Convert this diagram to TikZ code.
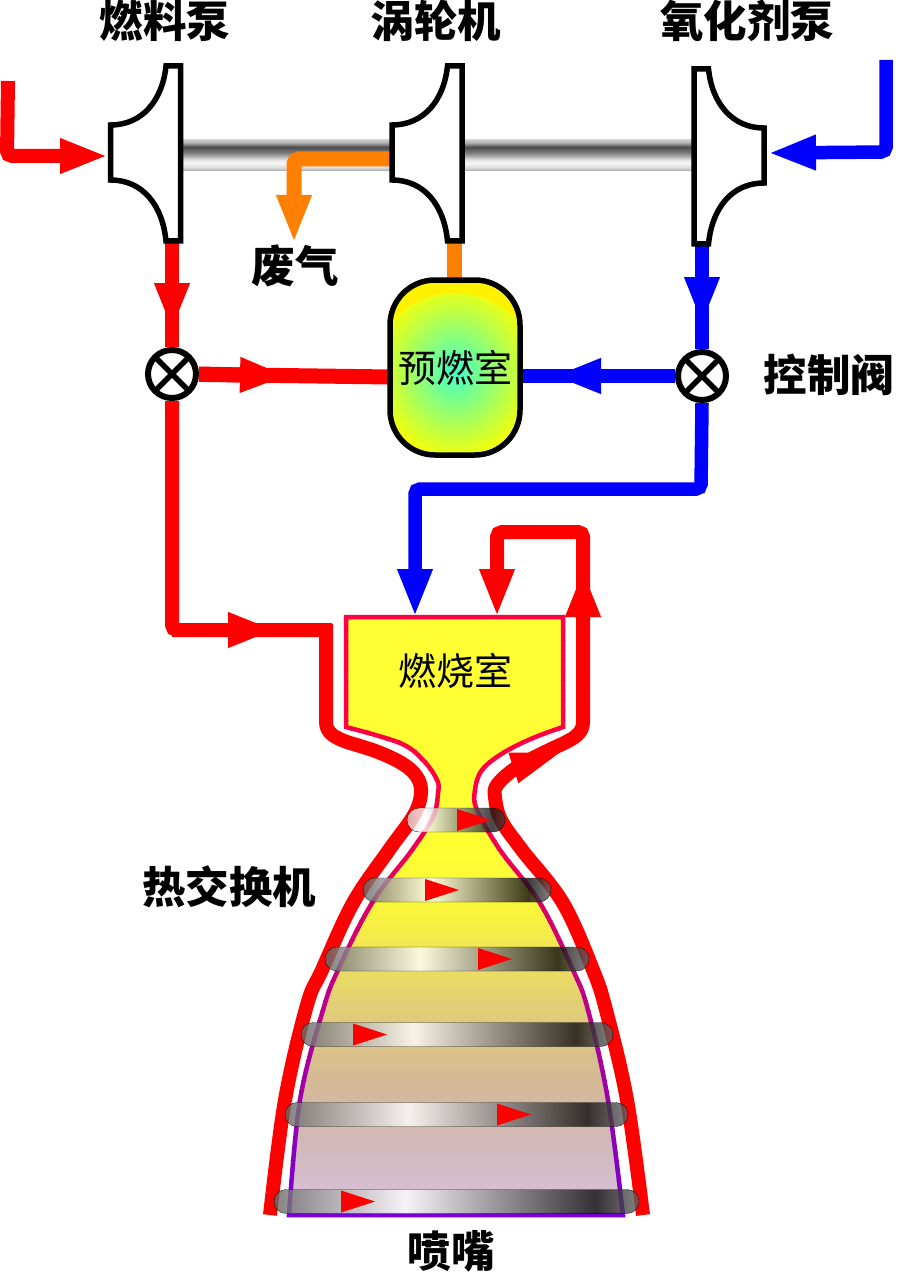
\documentclass[tikz,border=0pt]{standalone}
\usepackage{fontspec}
\newfontfamily\cjk{Noto Sans CJK SC}
\usetikzlibrary{arrows.meta}
\definecolor{exhaustc}{RGB}{255,128,0}
\definecolor{flamec}{RGB}{255,255,51}
\definecolor{wallup}{RGB}{255,0,64}
\definecolor{walldown}{RGB}{115,0,215}
\definecolor{fillb}{RGB}{250,245,60}
\definecolor{fillc}{RGB}{226,208,115}
\definecolor{filld}{RGB}{212,185,150}
\definecolor{fille}{RGB}{210,185,190}
\definecolor{fillf}{RGB}{220,195,222}
\definecolor{burnerc}{RGB}{64,255,200}
\pgfdeclareverticalshading{shaftshade}{100bp}{color(0bp)=(black!35); color(25bp)=(black!35);
    color(30bp)=(black!15); color(38bp)=(black!3); color(42.7bp)=(black!10); color(54bp)=(black!50);
    color(63.7bp)=(black!70); color(70bp)=(black!35); color(75bp)=(black!20); color(100bp)=(black!20)}
\pgfdeclarehorizontalshading{ringshade}{100bp}{color(0bp)=(black!60); color(25bp)=(black!60);
    color(43bp)=(white); color(69bp)=(black!95); color(75bp)=(black!60); color(100bp)=(black!60)}
\pgfdeclarehorizontalshading{topringshade}{100bp}{color(0bp)=(black!15); color(25bp)=(black!15);
    color(34bp)=(white); color(68bp)=(black!90); color(75bp)=(black!75); color(100bp)=(black!75)}
\pgfdeclareradialshading{burnershade}{\pgfpointorigin}{color(0bp)=(burnerc); color(25bp)=(yellow); color(50bp)=(yellow)}
\newcommand{\chamberoutline}{(346,617) -- (563,617) -- (563,727) -- plot[smooth,tension=.6] coordinates {(563,727) (533,738) (503,753) (482,770) (475,790) (477,810) (500,850) (540,903) (573,970) (588,1010) (608,1100) (623,1215)}
    -- plot[smooth,tension=.6] coordinates {(289,1215) (300,1100) (323,1010) (338,970) (372,903) (412,850) (433,817) (438,793) (437,780) (423,760) (400,743) (346,727)} -- cycle}
\begin{document}
\begin{tikzpicture}[x=1pt, y=-1pt,
        title/.style={font=\cjk\bfseries\fontsize{43.5}{43.5}\selectfont, inner sep=0pt},
        plain/.style={font=\cjk\fontsize{38}{38}\selectfont, inner sep=0pt},
        fuel/.style={red, line width=14pt, rounded corners=5pt},
        oxi/.style={blue, line width=13.5pt, rounded corners=5pt},
        exhaust/.style={exhaustc, line width=15pt, rounded corners=5pt},
        tip/.style={-{Triangle[length=48pt,width=32pt]}},
        wheel/.style={draw=black, fill=white, line width=5.5pt},
        valve/.style={circle, draw=black, fill=white, line width=6pt, minimum size=48pt, inner sep=0pt,
            path picture={\draw[line width=5.5pt] (path picture bounding box.north west) -- (path picture bounding box.south east)
                (path picture bounding box.north east) -- (path picture bounding box.south west);}},
        ring/.style={rounded corners=12pt, minimum height=24pt, inner sep=0pt, draw=black, thin, opacity=.8, shade, shading angle=0}]
    \useasboundingbox (0,0) rectangle (900,1273);
    \shade[shading=shaftshade] (181,140) rectangle (392,171);
    \shade[shading=shaftshade] (461,140) rectangle (695,171);
    \coordinate (fuelin) at (8,81);
    \coordinate (fuelbend) at (7,156);
    \coordinate (fuelpumpin) at (108,156);
    \coordinate (oxiin) at (886,60);
    \coordinate (oxibend) at (886,152);
    \coordinate (oxipumpin) at (768,153);
    \coordinate (fuelpumpout) at (172,243);
    \coordinate (oxipumpout) at (702,245);
    \coordinate (turbineout) at (454,243);
    \coordinate (turbineback) at (392,159);
    \coordinate (ventbend) at (294,159);
    \coordinate (vent) at (294,243);
    \draw[fuel, tip] (fuelin) -- (fuelbend) -- (fuelpumpin);
    \draw[oxi, tip] (oxiin) -- (oxibend) -- (oxipumpin);
    \draw[exhaust, tip] (turbineback) -- (ventbend) -- (vent);
    \draw[exhaust] (turbineout) -- (454,285);
    \node[valve] (fuelvalve) at (172,374) {};
    \node[valve] (oxivalve) at (702,376) {};
    \coordinate (fueltip) at (172,331);
    \coordinate (oxitip) at (702,325);
    \draw[fuel] (fuelpumpout) -- (fuelvalve);
    \draw[fuel, tip] (fuelpumpout) -- (fueltip);
    \draw[oxi] (oxipumpout) -- (oxivalve);
    \draw[oxi, tip] (oxipumpout) -- (oxitip);
    \foreach \dx/\dy/\fx in {110.5/0/1, 392/0/1, 764/3/-1}
        \draw[wheel, shift={(\dx,\dy)}, xscale=\fx] (0,125) -- (0,180) .. controls (32,180) and (52,205) .. (55.5,241)
            -- (70,241) -- (70,66) -- (55.5,66) .. controls (52,100) and (32,125) .. (0,125) -- cycle;
    \coordinate (burnerleft) at (390,377);
    \coordinate (burnerright) at (520,376);
    \coordinate (fuelbranch) at (288,376);
    \coordinate (oxibranch) at (553,376);
    \draw[fuel, line width=15pt] (fuelvalve) -- (burnerleft);
    \draw[fuel, line width=15pt, tip] (fuelvalve.east) -- (fuelbranch);
    \draw[oxi] (oxivalve) -- (burnerright);
    \draw[oxi, tip] (oxivalve.west) -- (oxibranch);
    \node[plain, draw=black, fill=yellow, line width=5.5pt, rounded corners=45pt, minimum width=130pt, minimum height=175pt,
        path picture={\shade[shading=burnershade] ([yshift=-10.5pt] path picture bounding box.center) circle (85);}] (burner) at (455,367.5) {预燃室\hspace{6pt}};
    \coordinate (fuelturn) at (172,630);
    \coordinate (fuelmid) at (276,630);
    \coordinate (fuelend) at (332,630);
    \draw[fuel] (fuelvalve.south) -- (fuelturn) -- (fuelend);
    \draw[fuel, tip] (fuelturn) -- (fuelmid);
    \coordinate (oxiturn) at (701,489);
    \coordinate (oxicorner) at (415,489);
    \coordinate (oxichamber) at (415,617);
    \draw[oxi, tip] (oxivalve.south) -- (oxiturn) -- (oxicorner) -- (oxichamber);
    \begin{scope}
        \clip \chamberoutline;
        \fill[flamec] (200,600) rectangle (700,851);
        \shade[top color=flamec, bottom color=fillb] (200,850) rectangle (700,911);
        \shade[top color=fillb, bottom color=fillc] (200,910) rectangle (700,1001);
        \shade[top color=fillc, bottom color=filld] (200,1000) rectangle (700,1081);
        \shade[top color=filld, bottom color=fille] (200,1080) rectangle (700,1151);
        \shade[top color=fille, bottom color=fillf] (200,1150) rectangle (700,1220);
    \end{scope}
    \foreach \y in {610,620,...,1220} {
        \pgfmathsetmacro{\p}{min(100,max(0,(1215-\y)/4.2))}
        \begin{scope}
            \clip (200,\y) rectangle (700,\y+10.3);
            \draw[wallup!\p!walldown, line width=4.5pt] \chamberoutline;
        \end{scope}
    }
    \node[plain] (chamber) at (455,671) {燃烧室};
    \coordinate (loopup) at (583,532);
    \coordinate (loopleft) at (497,532);
    \coordinate (loopin) at (497,617);
    \coordinate (looptip) at (583,569);
    \coordinate (jacketin) at (513,768);
    \coordinate (jackettip) at (559,753);
    \draw[fuel, sharp corners, line join=round] (326,624) -- (326,722) .. controls (326,733) and (335,738) .. (350,743) -- plot[smooth,tension=.6] coordinates {(350,743) (378,752) (403,764) (417,777) (421,793) (414,815) (389,850) (353,903) (322,970) (307,1005) (285,1100) (270,1215)};
    \draw[fuel, sharp corners, line join=round] (looptip) -- (583,722) .. controls (583,733) and (575,738) .. (560,745) -- plot[smooth,tension=.6] coordinates {(560,745) (535,757) (513,770) (497,785) (495,797) (501,820) (522,850) (563,903) (593,970) (606,1010) (627,1100) (643,1215)};
    \draw[fuel, tip] (583,640) -- (looptip);
    \draw[fuel, tip] (looptip) -- (loopup) -- (loopleft) -- (loopin);
    \draw[fuel, tip, line width=1pt] (jacketin) -- (jackettip);
    \foreach \cx/\w/\y/\b/\shname in {456/98/820/457/topringshade, 457/188/890/425/ringshade, 457/264/959/478/ringshade,
            457/312/1034.5/353/ringshade, 456.5/343/1114.5/497/ringshade, 456.5/365/1201.5/341/ringshade} {
        \node[ring, shading=\shname, minimum width=\w pt] at (\cx,\y) {};
        \fill[red] (\b,\y-11) -- (\b+34,\y) -- (\b,\y+11) -- cycle;
    }
    \node[title] (fuellabel) at (165,21) {燃料泵};
    \node[title] (turbinelabel) at (436,21) {涡轮机};
    \node[title] (oxilabel) at (747,21) {氧化剂泵};
    \node[title] (ventlabel) at (295,266) {废气};
    \node[title] (valvelabel) at (829,375) {控制阀};
    \node[title] (jacketlabel) at (229,887) {热交换机};
    \node[title] (nozzlelabel) at (451,1251) {喷嘴};
\end{tikzpicture}
\end{document}
